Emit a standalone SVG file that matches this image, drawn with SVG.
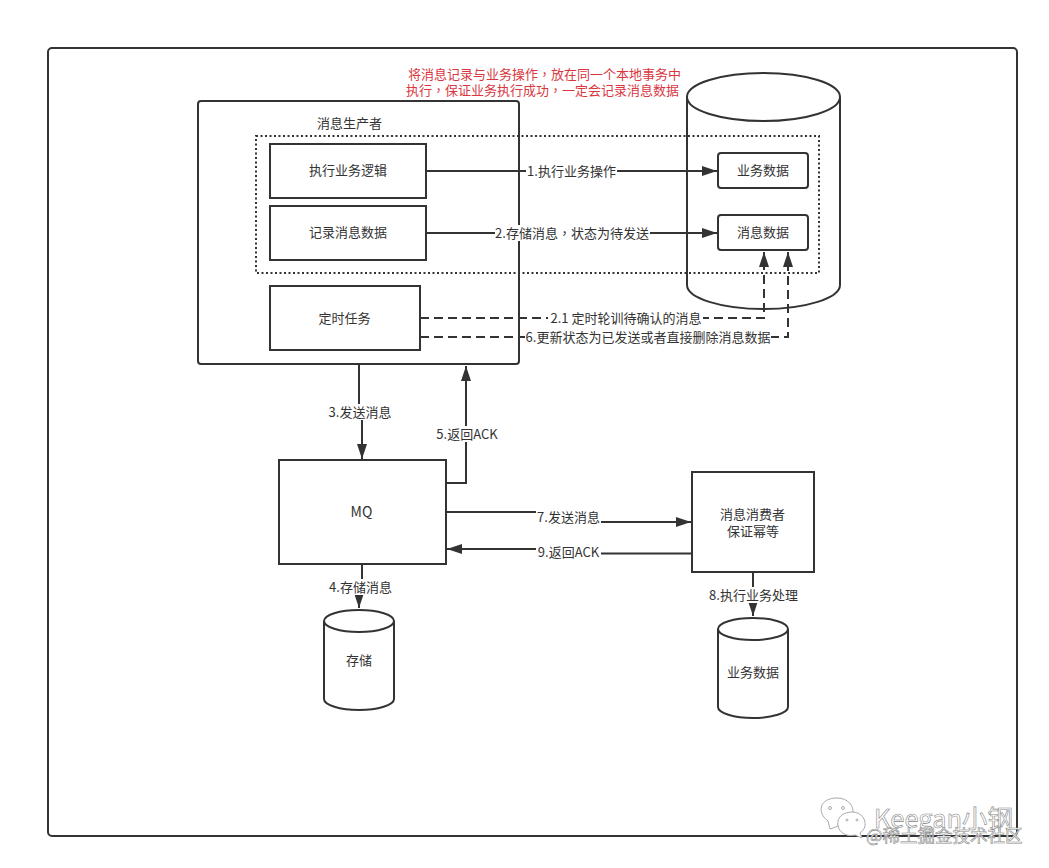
<svg xmlns="http://www.w3.org/2000/svg" width="1049" height="868" viewBox="0 0 1049 868">
<style>
text{font-family:"Noto Sans CJK SC","Noto Sans",sans-serif;font-size:13px;fill:#333;text-anchor:middle}
tspan.cm{font-family:"Noto Sans CJK TC","Noto Sans",sans-serif}
.s{fill:#fff;stroke:#333;stroke-width:2}
.n{fill:none;stroke:#333;stroke-width:2}
.d{stroke-dasharray:9 5}
.c{fill:none;stroke:#333;stroke-width:2}
.a{marker-end:url(#arrow)}
.lb{fill:#fff}
text.red{fill:#d9373f}
text.wm{fill:#fff;stroke:#888;stroke-width:.6;text-anchor:start}
</style>
<defs>
<marker id="arrow" viewBox="0 0 15 10" refX="15" refY="5" markerWidth="15" markerHeight="10" markerUnits="userSpaceOnUse" orient="auto"><path d="M0 0L15 5L0 10Z" fill="#333"/></marker>
</defs>
<rect width="1049" height="868" fill="#fff"/>
<g id="frame"><rect class="n" x="48" y="48" width="969" height="788" rx="4"/></g>
<g id="note"><text class="red" x="544.500" y="78.500">将消息记录与业务操作<tspan class="cm">，</tspan>放在同一个本地事务中</text><text class="red" x="542.500" y="95">执行<tspan class="cm">，</tspan>保证业务执行成功<tspan class="cm">，</tspan>一定会记录消息数据</text></g>
<g id="database"><path class="s" d="M687 97V285C687 298 721 309 763.500 309S840 298 840 285V97"/><ellipse class="s" cx="763.500" cy="97" rx="76.500" ry="24"/></g>
<g id="producer"><rect class="n" x="198" y="101" width="321" height="263" rx="3"/><text x="349.500" y="128">消息生产者</text></g>
<g id="transaction"><rect x="256" y="136" width="563" height="137" fill="none" stroke="#333" stroke-width="2" stroke-dasharray="2 2.500"/></g>
<g id="exec-logic"><rect class="s" x="270" y="144" width="156" height="54"/><text x="348" y="174.500">执行业务逻辑</text></g>
<g id="record-msg"><rect class="s" x="270" y="206" width="156" height="54"/><text x="348" y="236.500">记录消息数据</text></g>
<g id="timer"><rect class="s" x="270" y="286" width="150" height="64"/><text x="344.500" y="322.500">定时任务</text></g>
<g id="biz-data"><rect class="s" x="718" y="153" width="90" height="35" rx="3"/><text x="763" y="174.500">业务数据</text></g>
<g id="msg-data"><rect class="s" x="718" y="215" width="90" height="35" rx="3"/><text x="763" y="236.500">消息数据</text></g>
<g id="mq"><rect class="s" x="279" y="460" width="167" height="104"/><text x="361.500" y="517" style="font-size:14px">MQ</text></g>
<g id="consumer"><rect class="s" x="692" y="472" width="122" height="100"/><text x="752.500" y="519">消息消费者</text><text x="753" y="535.500">保证幂等</text></g>
<g id="storage"><path class="s" d="M324 621V699C324 705 340 710 359 710S394 705 394 699V621"/><ellipse class="s" cx="359" cy="621" rx="35" ry="11"/><text x="359" y="665">存储</text></g>
<g id="biz-db"><path class="s" d="M718 629V707C718 713 734 718 753 718S788 713 788 707V629"/><ellipse class="s" cx="753" cy="629" rx="35" ry="11"/><text x="753" y="677">业务数据</text></g>
<g id="connectors">
<path class="c a" d="M426 171H717"/>
<path class="c a" d="M426 233H717"/>
<path class="c d a" d="M420 318H764V252"/>
<path class="c d a" d="M420 337H788V252"/>
<path class="c a" d="M359 364V412H362V459"/>
<path class="c a" d="M446 483H466V366"/>
<path class="c a" d="M362 564V588H359V608"/>
<path class="c a" d="M446 512H568V522H691"/>
<path class="c a" d="M692 553.500H570V549H447"/>
<path class="c a" d="M753 572V616"/>
<rect class="lb" x="526" y="163" width="91" height="16"/><text x="571.500" y="175.500">1.执行业务操作</text>
<rect class="lb" x="495" y="225" width="155" height="16"/><text x="572" y="237.500">2.存储消息<tspan class="cm">，</tspan>状态为待发送</text>
<rect class="lb" x="548" y="310" width="155" height="16"/><text x="626" y="322.500">2.1 定时轮训待确认的消息</text>
<rect class="lb" x="525" y="329" width="246" height="16"/><text x="648" y="341.500">6.更新状态为已发送或者直接删除消息数据</text>
<rect class="lb" x="328" y="404" width="64" height="16"/><text x="360" y="416.500">3.发送消息</text>
<rect class="lb" x="435" y="426" width="64" height="16"/><text x="467" y="438.500">5.返回ACK</text>
<rect class="lb" x="328" y="579" width="65" height="16"/><text x="360.500" y="591.500">4.存储消息</text>
<rect class="lb" x="536" y="509" width="65" height="16"/><text x="568.500" y="521.500">7.发送消息</text>
<rect class="lb" x="536" y="544" width="65" height="16"/><text x="568.500" y="556.500">9.返回ACK</text>
<rect class="lb" x="708" y="587" width="91" height="16"/><text x="753.500" y="599.500">8.执行业务处理</text>
</g>
<g id="watermark">
<path d="M828 821C816 812 820 798 837 798C848 798 854 806 853 813C846 812 838 817 838 826L830 829Z" fill="#fff" stroke="#aaa" stroke-width="1"/>
<path d="M838 826C836 816 845 812 852 812C862 812 866 820 865 826C864 830 861 832 860 833L862 838L855 835C846 837 840 833 838 826Z" fill="#fff" stroke="#aaa" stroke-width="1"/>
<circle cx="830" cy="808" r="1.500" fill="none" stroke="#aaa"/><circle cx="843" cy="808" r="1.500" fill="none" stroke="#aaa"/>
<circle cx="847" cy="820" r="1" fill="none" stroke="#aaa"/><circle cx="857" cy="820" r="1" fill="none" stroke="#aaa"/>
<text class="wm" x="874" y="828" style="font-size:25.500px">Keegan小钢</text>
<text class="wm" x="866" y="842" style="font-size:17.500px">@稀土掘金技术社区</text>
</g>
</svg>
